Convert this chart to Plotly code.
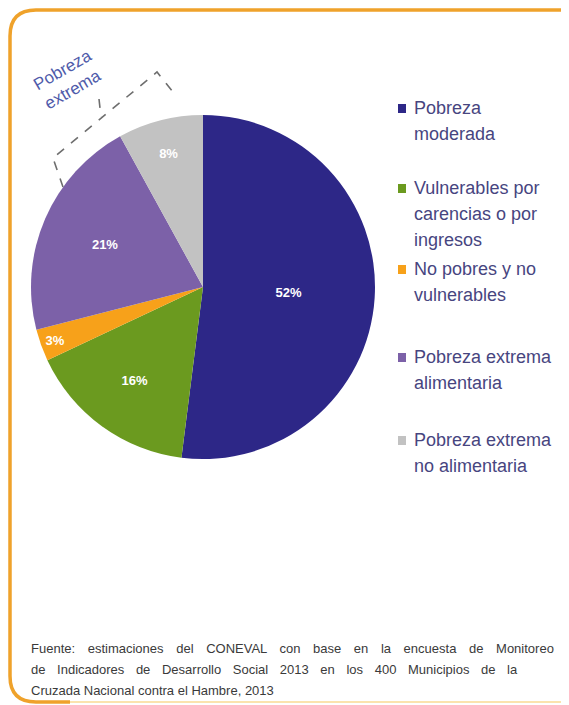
import plotly.graph_objects as go

# ---- data ----
CATEGORIES = [
    "Pobreza moderada",
    "Vulnerables por carencias o por ingresos",
    "No pobres y no vulnerables",
    "Pobreza extrema alimentaria",
    "Pobreza extrema no alimentaria",
]
LEGEND_LINES = [
    ["Pobreza", "moderada"],
    ["Vulnerables por", "carencias o por", "ingresos"],
    ["No pobres y no", "vulnerables"],
    ["Pobreza extrema", "alimentaria"],
    ["Pobreza extrema", "no alimentaria"],
]
VALUES = [52, 16, 3, 21, 8]
COLORS = ["#2D2787", "#6B9A1F", "#F7A11A", "#7C61A8", "#C2C2C2"]
BRACKET_LABEL = "Pobreza<br>extrema"
FOOTNOTE_LINES = [
    "Fuente: estimaciones del CONEVAL con base en la encuesta de Monitoreo",
    "de Indicadores de Desarrollo Social 2013 en los 400 Municipios de la",
    "Cruzada Nacional contra el Hambre, 2013",
]

# ---- layout constants (pixels of the page) ----
W, H = 569, 705
OX, OY = 8, 8  # page body margin


def px(x):
    return (x - OX) / W


def py(y):
    return 1 - (y - OY) / H


CX, CY, R = 203, 287, 172
LEGEND_FIRST_Y = [108, 188, 269, 357, 440]
LEGEND_LINE_GAP = 26
LEGEND_TEXT_X = 412
FOOT_WORD_SPACING = [9, 8, 0]

fig = go.Figure()
fig.add_trace(go.Pie(
    labels=CATEGORIES,
    values=VALUES,
    sort=False,
    direction="clockwise",
    rotation=0,
    marker=dict(colors=COLORS, line=dict(width=0)),
    texttemplate="<b>%{value}%</b>",
    textposition="inside",
    insidetextorientation="horizontal",
    textfont=dict(family="Arial", size=13, color="white"),
    domain=dict(x=[px(CX - R), px(CX + R)], y=[py(CY + R), py(CY - R)]),
    hoverinfo="label+percent",
    showlegend=False,
))

shapes = []
# orange frame
shapes.append(dict(
    type="path", xref="paper", yref="paper",
    path=(f"M {px(600)},{py(10)} L {px(36)},{py(10)} "
          f"Q {px(10)},{py(10)} {px(10)},{py(36)} "
          f"L {px(10)},{py(676)} Q {px(10)},{py(702)} {px(36)},{py(702)} "
          f"L {px(70)},{py(702)}"),
    line=dict(color="#EFA22B", width=3.5),
))
shapes.append(dict(
    type="line", xref="paper", yref="paper",
    x0=px(70), y0=py(702), x1=px(600), y1=py(702),
    line=dict(color="#FBE3AE", width=2),
))
# dashed bracket
shapes.append(dict(
    type="path", xref="paper", yref="paper",
    path=(f"M {px(63)},{py(187)} L {px(53)},{py(158)} "
          f"L {px(157)},{py(72)} L {px(177)},{py(97)}"),
    line=dict(color="#6E6E6E", width=1.6, dash="dash"),
))
shapes.append(dict(
    type="line", xref="paper", yref="paper",
    x0=px(99), y0=py(99), x1=px(101), y1=py(117),
    line=dict(color="#6E6E6E", width=1.6, dash="dash"),
))

annotations = [dict(
    text=BRACKET_LABEL, xref="paper", yref="paper",
    x=px(68), y=py(79), xanchor="center", yanchor="middle",
    textangle=-30, showarrow=False, align="left",
    font=dict(family="Arial", size=17, color="#4F5BAA"),
)]

# legend (markers + text lines)
for color, lines, y0 in zip(COLORS, LEGEND_LINES, LEGEND_FIRST_Y):
    shapes.append(dict(
        type="rect", xref="paper", yref="paper",
        x0=px(398), x1=px(406), y0=py(y0 - 4), y1=py(y0 + 5),
        fillcolor=color, line=dict(width=0),
    ))
    for j, line in enumerate(lines):
        annotations.append(dict(
            text=line, xref="paper", yref="paper",
            x=px(LEGEND_TEXT_X), y=py(y0 + LEGEND_LINE_GAP * j),
            xanchor="left", yanchor="middle", showarrow=False, align="left",
            font=dict(family="Arial", size=18, color="#47457F"),
        ))

for i, line in enumerate(FOOTNOTE_LINES):
    ws = FOOT_WORD_SPACING[i]
    txt = f'<span style="word-spacing:{ws}px">{line}</span>' if ws else line
    annotations.append(dict(
        text=txt, xref="paper", yref="paper",
        x=px(29), y=py(648 + 21 * i), xanchor="left", yanchor="middle",
        showarrow=False, align="left",
        font=dict(family="Arial", size=13, color="#3A3A3A"),
    ))

fig.update_layout(
    width=W, height=H,
    margin=dict(l=0, r=0, t=0, b=0),
    paper_bgcolor="white",
    plot_bgcolor="white",
    showlegend=False,
    shapes=shapes,
    annotations=annotations,
)

fig.write_html("out.html")
